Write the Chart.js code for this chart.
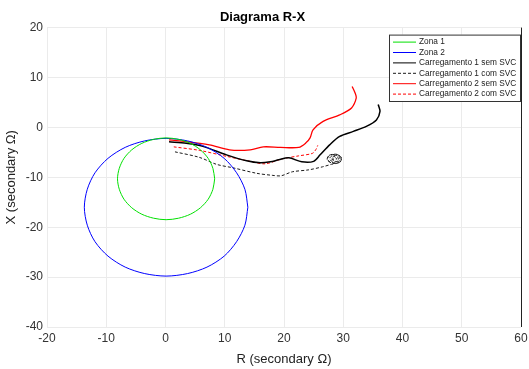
<!DOCTYPE html>
<html>
<head>
<meta charset="utf-8">
<script src="https://cdn.jsdelivr.net/npm/chart.js@4/dist/chart.umd.min.js"></script>
<style>
  html, body { margin: 0; padding: 0; background: #fff; }
  #wrap { width: 529px; height: 369px; }
</style>
</head>
<body>
<div id="wrap"><canvas id="rx"></canvas></div>
<script>
// axis ticks
const xTicks = [-20, -10, 0, 10, 20, 30, 40, 50, 60]
const yTicks = [-40, -30, -20, -10, 0, 10, 20]

// zone characteristics
const zona1 = [
  [8.3,-10.3],[8.0,-8.2],[7.2,-6.2],[5.9,-4.5],[4.2,-3.2],[2.2,-2.4],[0.1,-2.1],
  [-2.0,-2.4],[-4.0,-3.2],[-5.7,-4.5],[-7.0,-6.2],[-7.8,-8.2],[-8.1,-10.3],
  [-7.8,-12.4],[-7.0,-14.4],[-5.7,-16.1],[-4.0,-17.4],[-2.0,-18.2],[0.1,-18.5],
  [2.2,-18.2],[4.2,-17.4],[5.9,-16.1],[7.2,-14.4],[8.0,-12.4],[8.3,-10.3]
]
const zona2 = [
  [13.9,-16],[13.4,-12.4],[12.0,-9.1],[9.9,-6.2],[7.0,-4.0],[3.7,-2.7],[0.1,-2.2],
  [-3.5,-2.7],[-6.8,-4.0],[-9.7,-6.2],[-11.9,-9.1],[-13.2,-12.4],[-13.7,-16],
  [-13.2,-19.6],[-11.9,-22.9],[-9.7,-25.8],[-6.8,-28.0],[-3.5,-29.3],[0.1,-29.8],
  [3.7,-29.3],[7.0,-28.0],[9.9,-25.8],[12.0,-22.9],[13.4,-19.6],[13.9,-16]
]

// impedance trajectories
const carga1Sem = [
  [0.6,-2.9],[3.5,-3.2],[6.3,-3.8],[10.3,-5.5],[13.7,-6.7],[16,-7.1],[17.7,-6.9],
  [19.1,-6.5],[20.8,-6.1],[23,-6.9],[25,-6.8],[26.1,-5.5],[27.7,-3.5],
  [29.4,-1.8],[31.7,-0.8],[33.9,0.2],[35.6,1.5],[36.2,3.2],[35.9,4.6]
]
const carga1Com = [
  [1.6,-4.9],[5.7,-6],[8.6,-7.4],[11.4,-8.1],[15.4,-9.2],[18,-9.6],[19.5,-9.7],
  [21.4,-8.9],[24.2,-8.5],[26.5,-7.9],[28.0,-7.4],[29.4,-7.0],[29.7,-6.1],
  [28.9,-5.4],[27.6,-5.6],[27.3,-6.5],[28.2,-7.2],[29.5,-6.9],[29.6,-5.9],
  [28.7,-5.4],[27.5,-5.8],[27.5,-6.7],[28.5,-7.1],[29.4,-6.6],[29.3,-5.8],
  [28.3,-5.6],[27.7,-6.2],[28.2,-6.9],[29.1,-6.7],[29.1,-6.0],[28.4,-5.8],
  [28.0,-6.3],[28.5,-6.6],[28.9,-6.3],[28.5,-6.0],[28.2,-6.4],[28.6,-6.5]
]
const carga2Sem = [
  [0.6,-2.5],[2.3,-2.7],[7.4,-3.5],[10.8,-4.5],[14.3,-4.5],[16.5,-3.9],[19.4,-4.0],
  [22.5,-4.0],[23.7,-3.1],[24.4,-2.1],[24.9,-0.5],[26.6,1.2],[29.4,2.5],
  [31.4,3.9],[32.2,5.9],[32,6.9],[31.5,8.2]
]
const carga2Com = [
  [1.4,-3.9],[5.7,-4.6],[10.3,-5.8],[14.3,-6.8],[16.8,-7.3],[19.7,-6.3],[22.5,-5.7],
  [24.8,-5.2],[25.4,-4.4],[25.7,-3.6]
]

const toXY = (arr) => arr.map(p => ({x: p[0], y: p[1]}))

const FONT = "'Liberation Sans', Arial, sans-serif"

// legend drawn inside the plot, top right
const boxLegend = {
  id: 'boxLegend',
  afterDraw(chart) {
    const ctx = chart.ctx
    const area = chart.chartArea
    const w = 132, rowH = 10.4
    const sets = chart.data.datasets
    const h = sets.length * rowH + 5
    const left = area.right - w, top = area.top + 7
    ctx.save()
    ctx.fillStyle = '#fff'
    ctx.fillRect(left, top, w, h)
    ctx.strokeStyle = '#333'
    ctx.lineWidth = 1
    ctx.strokeRect(left + 0.5, top + 0.5, w - 1, h - 1)
    ctx.font = '8.3px ' + FONT
    ctx.textBaseline = 'middle'
    sets.forEach((ds, i) => {
      const y = top + 7.5 + i * rowH
      ctx.beginPath()
      ctx.setLineDash(ds.borderDash || [])
      ctx.strokeStyle = ds.borderColor
      ctx.lineWidth = 1
      ctx.moveTo(left + 4, y)
      ctx.lineTo(left + 27, y)
      ctx.stroke()
      ctx.setLineDash([])
      ctx.fillStyle = '#222'
      ctx.fillText(ds.label, left + 30, y)
    })
    ctx.restore()
  }
}

// black line on the right edge of the plot
const rightEdge = {
  id: 'rightEdge',
  afterDatasetsDraw(chart) {
    const ctx = chart.ctx
    const a = chart.chartArea
    ctx.save()
    ctx.strokeStyle = '#222'
    ctx.lineWidth = 1
    ctx.beginPath()
    ctx.moveTo(Math.round(a.right) + 0.5, a.top)
    ctx.lineTo(Math.round(a.right) + 0.5, a.bottom)
    ctx.stroke()
    ctx.restore()
  }
}

const line = (label, data, color, width, dash) => ({
  label: label,
  data: toXY(data),
  showLine: true,
  borderColor: color,
  backgroundColor: color,
  borderWidth: width,
  borderDash: dash,
  pointRadius: 0,
  tension: 0.3,
  fill: false
})

new Chart(document.getElementById('rx'), {
  type: 'scatter',
  data: {
    datasets: [
      line('Zona 1', zona1, '#00e000', 1, []),
      line('Zona 2', zona2, '#0000ff', 1, []),
      line('Carregamento 1 sem SVC', carga1Sem, '#000000', 1.5, []),
      line('Carregamento 1 com SVC', carga1Com, '#1a1a1a', 1, [3, 2]),
      line('Carregamento 2 sem SVC', carga2Sem, '#ff0000', 1.3, []),
      line('Carregamento 2 com SVC', carga2Com, '#ff0000', 1, [3, 2])
    ]
  },
  options: {
    responsive: true,
    maintainAspectRatio: false,
    animation: false,
    layout: { padding: { left: 4, right: 8, top: 0, bottom: 2 } },
    plugins: {
      legend: { display: false },
      tooltip: { enabled: false },
      title: {
        display: true,
        text: 'Diagrama R-X',
        color: '#000',
        font: { family: FONT, size: 13, weight: 'bold' },
        padding: { top: 10, bottom: 2 }
      }
    },
    scales: {
      x: {
        type: 'linear',
        min: -20, max: 60,
        afterBuildTicks: (s) => { s.ticks = xTicks.map(v => ({value: v})) },
        afterFit: (s) => { s.paddingRight = 0 },
        grid: { color: '#ebebeb', drawTicks: false },
        border: { display: false },
        ticks: { color: '#333', padding: 4, maxRotation: 0, font: { family: FONT, size: 12 } },
        title: {
          display: true, text: 'R (secondary Ω)', color: '#222',
          font: { family: FONT, size: 13 }, padding: { top: 2, bottom: 0 }
        }
      },
      y: {
        type: 'linear',
        min: -40, max: 20,
        afterBuildTicks: (s) => { s.ticks = yTicks.map(v => ({value: v})) },
        afterFit: (s) => { s.width = 43 },
        grid: { color: '#ebebeb', drawTicks: false },
        border: { display: false },
        ticks: { color: '#333', padding: 4, font: { family: FONT, size: 12 } },
        title: {
          display: true, text: 'X (secondary Ω)', color: '#222',
          font: { family: FONT, size: 13 }, padding: { top: 0, bottom: 2 }
        }
      }
    }
  },
  plugins: [boxLegend, rightEdge]
})
</script>
</body>
</html>
